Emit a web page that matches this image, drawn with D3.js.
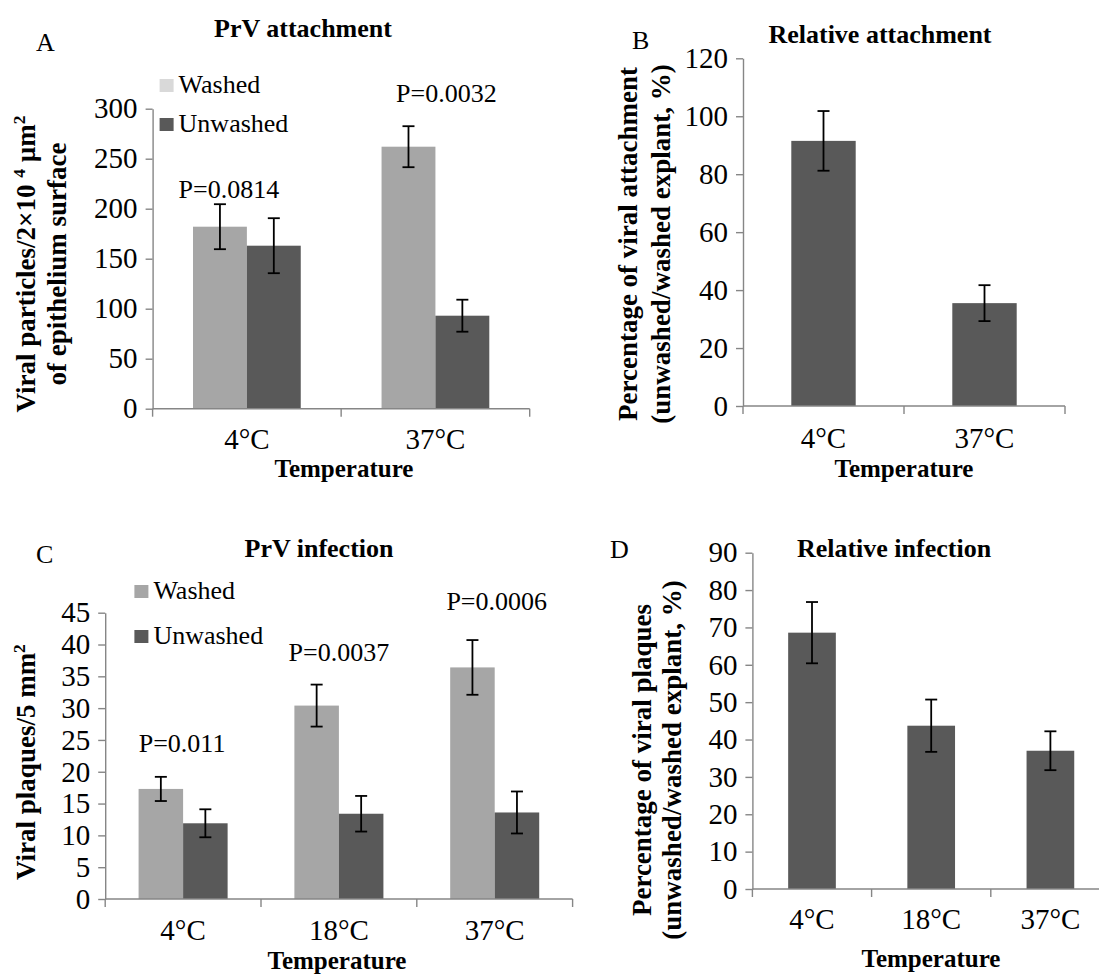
<!DOCTYPE html>
<html>
<head>
<meta charset="utf-8">
<script src="https://cdn.jsdelivr.net/npm/d3@7/dist/d3.min.js"></script>
<style>
  body { margin: 0; background: #fff; }
  text { font-family: "Liberation Serif", "DejaVu Serif", serif; fill: #000; }
</style>
</head>
<body>
<svg id="fig" width="1099" height="974"></svg>
<script>
// Panel A: PrV attachment
const attachTemps = ["4°C", "37°C"];
const attachWashed = [182, 262];
const attachWashedErr = [22.5, 20.5];
const attachUnwashed = [163, 93];
const attachUnwashedErr = [27.5, 16];
const attachPValues = ["P=0.0814", "P=0.0032"];

// Panel B: relative attachment
const relAttach = [91.5, 35.5];
const relAttachErr = [10.3, 6.2];

// Panel C: PrV infection
const infectTemps = ["4°C", "18°C", "37°C"];
const infectWashed = [17.3, 30.4, 36.4];
const infectWashedErr = [1.9, 3.3, 4.3];
const infectUnwashed = [11.9, 13.4, 13.6];
const infectUnwashedErr = [2.2, 2.8, 3.3];
const infectPValues = ["P=0.011", "P=0.0037", "P=0.0006"];

// Panel D: relative infection
const relInfect = [68.6, 43.7, 37.0];
const relInfectErr = [8.2, 7.0, 5.2];

const seriesNames = ["Washed", "Unwashed"];

const washedColor = "#a6a6a6";
const unwashedColor = "#595959";
const axisColor = "#868686";
const serif = "'Liberation Serif', 'DejaVu Serif', serif";
const tickSize = 29;     // axis numbers and categories
const noteSize = 26;     // legend and P values
const titleSize = 26;    // bold panel titles
const xTitleSize = 25;   // "Temperature"
const labelSize = 27;    // bold y titles

const svg = d3.select("#fig");
svg.append("rect").attr("width", 1099).attr("height", 974).attr("fill", "#fff");

function drawPanel(p) {
  const g = svg.append("g").attr("font-family", serif);
  const x = d3.scaleBand().domain(p.categories).range([p.left, p.right]).padding(0);
  const y = d3.scaleLinear().domain([0, p.yMax]).range([p.bottom, p.top]);
  const nS = p.series.length;
  const barW = x.bandwidth() / (nS + 1.5);   // gap width 150%
  const groupW = barW * nS;
  const barX = (cat, si) => x(cat) + x.bandwidth() / 2 - groupW / 2 + si * barW;

  // bars
  p.series.forEach((s, si) => {
    g.append("g").selectAll("rect")
      .data(p.categories)
      .join("rect")
      .attr("x", d => barX(d, si))
      .attr("y", (d, i) => y(s.values[i]))
      .attr("width", barW)
      .attr("height", (d, i) => y(0) - y(s.values[i]))
      .attr("fill", s.color);
  });

  // y axis
  const yAxis = d3.axisLeft(y)
    .tickValues(d3.range(0, p.yMax + 1e-6, p.yStep))
    .tickSize(7)
    .tickSizeOuter(0)
    .tickPadding(8);
  const ya = g.append("g")
    .attr("transform", `translate(${p.left},0)`)
    .call(yAxis);
  ya.attr("font-family", serif).attr("font-size", tickSize);
  ya.selectAll("path, line").attr("stroke", axisColor).attr("stroke-width", 1.4);
  ya.selectAll("text")
    .attr("font-family", serif)
    .attr("font-size", tickSize)
    .attr("fill", "#000");

  // x axis: line plus ticks at category boundaries
  const axisEnd = p.axisEnd || p.right;
  const bounds = p.categories.map(c => x(c)).concat([axisEnd]);
  g.append("line")
    .attr("x1", p.left).attr("x2", axisEnd)
    .attr("y1", y(0)).attr("y2", y(0))
    .attr("stroke", axisColor).attr("stroke-width", 1.4);
  g.append("g").selectAll("line")
    .data(bounds)
    .join("line")
    .attr("x1", d => d).attr("x2", d => d)
    .attr("y1", y(0)).attr("y2", y(0) + 8)
    .attr("stroke", axisColor).attr("stroke-width", 1.4);
  g.append("g").selectAll("text")
    .data(p.categories)
    .join("text")
    .attr("x", d => x(d) + x.bandwidth() / 2)
    .attr("y", p.tickLabelY)
    .attr("text-anchor", "middle")
    .attr("font-size", tickSize)
    .text(d => d);

  // error bars
  p.series.forEach((s, si) => {
    const eg = g.append("g").attr("stroke", "#000").attr("stroke-width", 1.8);
    p.categories.forEach((c, i) => {
      const cx = barX(c, si) + barW / 2;
      const lo = y(s.values[i] - s.errors[i]);
      const hi = y(s.values[i] + s.errors[i]);
      eg.append("line").attr("x1", cx).attr("x2", cx).attr("y1", lo).attr("y2", hi);
      eg.append("line").attr("x1", cx - 6).attr("x2", cx + 6).attr("y1", lo).attr("y2", lo);
      eg.append("line").attr("x1", cx - 6).attr("x2", cx + 6).attr("y1", hi).attr("y2", hi);
    });
  });

  // P-value labels, placed above the highest error bar
  if (p.pValues) {
    p.categories.forEach((c, i) => {
      const top = d3.max(p.series, s => s.values[i] + s.errors[i]);
      g.append("text")
        .attr("x", x(c) + x.bandwidth() / 2 + p.pShift[i][0])
        .attr("y", y(top) - p.pShift[i][1])
        .attr("text-anchor", "middle")
        .attr("font-size", noteSize)
        .text(p.pValues[i]);
    });
  }

  // legend
  if (p.legend) {
    p.legend.items.forEach((it, i) => {
      const ly = p.legend.rows[i];
      g.append("rect")
        .attr("x", p.legend.x).attr("y", ly - 14)
        .attr("width", 14).attr("height", 13)
        .attr("fill", it.color);
      g.append("text")
        .attr("x", p.legend.x + 19).attr("y", ly)
        .attr("font-size", noteSize)
        .text(it.name);
    });
  }

  // title and panel letter
  g.append("text")
    .attr("x", p.titleX).attr("y", p.titleY)
    .attr("text-anchor", "middle")
    .attr("font-size", titleSize)
    .attr("font-weight", "bold")
    .text(p.title);
  g.append("text")
    .attr("x", p.letter[1]).attr("y", p.letter[2])
    .attr("font-size", noteSize)
    .text(p.letter[0]);

  // x axis title
  g.append("text")
    .attr("x", p.xTitleX).attr("y", p.xTitleY)
    .attr("text-anchor", "middle")
    .attr("font-size", xTitleSize)
    .attr("font-weight", "bold")
    .text("Temperature");

  // y axis title (one or two lines, rotated)
  p.yLines.forEach(line => {
    const t = g.append("text")
      .attr("transform", `translate(${line.x},${p.yTitleY}) rotate(-90)`)
      .attr("text-anchor", "middle")
      .attr("dy", "0.35em")
      .attr("font-size", labelSize)
      .attr("font-weight", "bold");
    let raised = false;
    line.parts.forEach(part => {
      if (typeof part === "string") {
        const ts = t.append("tspan").text(part);
        if (raised) ts.attr("dy", "0.39em");
        raised = false;
      } else {
        t.append("tspan").attr("font-size", labelSize * 0.65).attr("dy", "-0.6em").text(part.sup);
        raised = true;
      }
    });
  });
}

// A
drawPanel({
  categories: attachTemps,
  left: 152.6, right: 529.7, bottom: 408.7, top: 108.7,
  yMax: 300, yStep: 50,
  series: [
    { values: attachWashed, errors: attachWashedErr, color: washedColor },
    { values: attachUnwashed, errors: attachUnwashedErr, color: unwashedColor }
  ],
  pValues: attachPValues,
  pShift: [[-18, 6], [11, 24]],
  legend: {
    x: 159.6, rows: [93, 132],
    items: [{ name: seriesNames[0], color: "#d9d9d9" }, { name: seriesNames[1], color: unwashedColor }]
  },
  title: "PrV attachment", titleX: 303, titleY: 37,
  letter: ["A", 36, 51],
  tickLabelY: 449,
  xTitleX: 344, xTitleY: 477,
  yTitleY: 264,
  yLines: [
    { x: 26, parts: ["Viral particles/2×10 ", { sup: "4" }, " µm", { sup: "2" }] },
    { x: 57, parts: ["of epithelium surface"] }
  ]
});

// B
drawPanel({
  categories: attachTemps,
  left: 743, right: 1065, bottom: 406, top: 58.3,
  yMax: 120, yStep: 20,
  series: [{ values: relAttach, errors: relAttachErr, color: unwashedColor }],
  title: "Relative attachment", titleX: 880, titleY: 43,
  letter: ["B", 632, 49],
  tickLabelY: 448,
  xTitleX: 904, xTitleY: 477,
  yTitleY: 244,
  yLines: [
    { x: 628, parts: ["Percentage of viral attachment"] },
    { x: 661, parts: ["(unwashed/washed explant, %)"] }
  ]
});

// C
drawPanel({
  categories: infectTemps,
  left: 105.2, right: 572.6, bottom: 899, top: 612.7,
  yMax: 45, yStep: 5,
  series: [
    { values: infectWashed, errors: infectWashedErr, color: washedColor },
    { values: infectUnwashed, errors: infectUnwashedErr, color: unwashedColor }
  ],
  pValues: infectPValues,
  pShift: [[-1, 25], [0, 24], [2, 30]],
  legend: {
    x: 134.4, rows: [599, 644],
    items: [{ name: seriesNames[0], color: washedColor }, { name: seriesNames[1], color: unwashedColor }]
  },
  title: "PrV infection", titleX: 319, titleY: 557,
  letter: ["C", 36, 563],
  tickLabelY: 940,
  xTitleX: 337, xTitleY: 969,
  yTitleY: 762,
  yLines: [
    { x: 26, parts: ["Viral plaques/5 mm", { sup: "2" }] }
  ]
});

// D
drawPanel({
  categories: infectTemps,
  left: 752.4, right: 1110, bottom: 889, top: 552.7,
  yMax: 90, yStep: 10,
  series: [{ values: relInfect, errors: relInfectErr, color: unwashedColor }],
  title: "Relative infection", titleX: 894, titleY: 557,
  letter: ["D", 610, 558],
  tickLabelY: 929,
  xTitleX: 931, xTitleY: 967,
  yTitleY: 760,
  yLines: [
    { x: 642, parts: ["Percentage of viral plaques"] },
    { x: 672, parts: ["(unwashed/washed explant, %)"] }
  ]
});
</script>
</body>
</html>
